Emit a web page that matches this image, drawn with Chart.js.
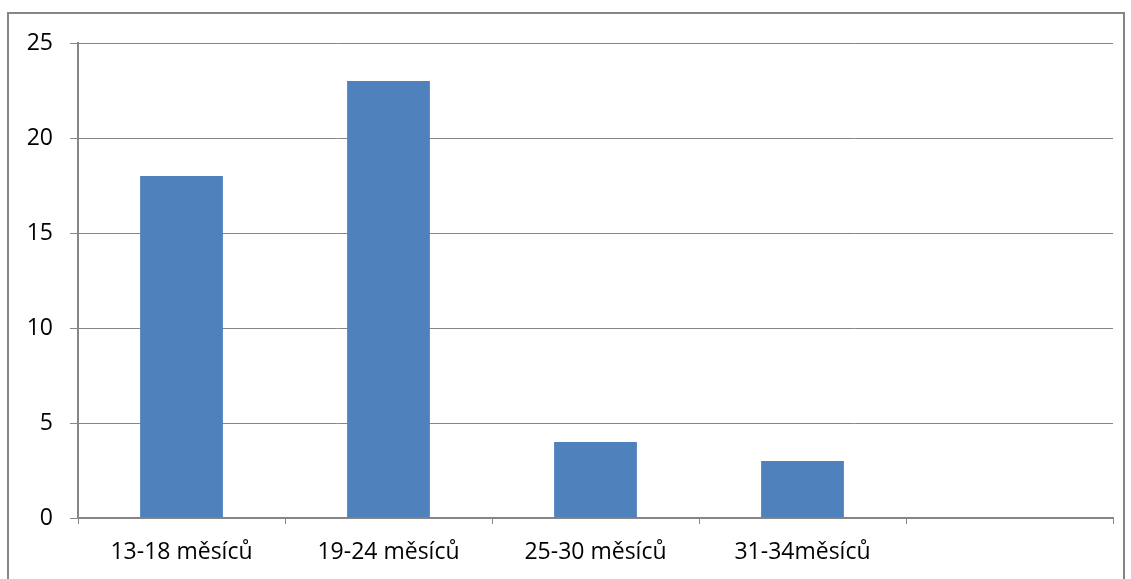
<!DOCTYPE html>
<html>
<head>
<meta charset="utf-8">
<script src="https://cdn.jsdelivr.net/npm/chart.js@4/dist/chart.umd.min.js"></script>
<style>
  html, body { margin: 0; padding: 0; background: #fff; }
  #wrap { position: relative; width: 1131px; height: 579px; }
</style>
</head>
<body>
<div id="wrap"><canvas id="c" width="1131" height="579"></canvas></div>
<script>
// Age groups (months) and counts per group
const categories = ['13-18 měsíců', '19-24 měsíců', '25-30 měsíců', '31-34měsíců', ''];
const counts = [18, 23, 4, 3, null];
const yTicks = [0, 5, 10, 15, 20, 25];

const gridGray = '#868686';
const barBlue = '#4F81BD';
const fontFamily = '"Open Sans", "Liberation Sans", sans-serif';

// Outer frame around the whole chart
const framePlugin = {
  id: 'frame',
  afterDraw(chart) {
    const ctx = chart.ctx;
    ctx.save();
    ctx.strokeStyle = gridGray;
    ctx.lineWidth = 2;
    ctx.strokeRect(8, 13, 1116, 580);
    ctx.restore();
  }
};

new Chart(document.getElementById('c'), {
  type: 'bar',
  data: {
    labels: categories,
    datasets: [{
      data: counts,
      backgroundColor: barBlue,
      borderWidth: 0,
      categoryPercentage: 1.0,
      barPercentage: 0.4
    }]
  },
  options: {
    responsive: false,
    animation: false,
    layout: { padding: { left: 0, top: 43, right: 18, bottom: 0 } },
    plugins: { legend: { display: false }, tooltip: { enabled: false } },
    scales: {
      x: {
        grid: {
          offset: true,
          drawOnChartArea: false,
          drawTicks: true,
          tickLength: 6,
          color: gridGray,
          lineWidth: 1
        },
        border: { color: gridGray, width: 2 },
        ticks: {
          color: '#000',
          font: { family: fontFamily, size: 23 },
          padding: 15,
          maxRotation: 0,
          autoSkip: false
        },
        afterFit(scale) { scale.height = 61; }
      },
      y: {
        min: 0,
        max: 25,
        afterBuildTicks(scale) { scale.ticks = yTicks.map(v => ({ value: v })); },
        grid: {
          color: gridGray,
          lineWidth: 1,
          drawTicks: true,
          tickLength: 8
        },
        border: { color: gridGray, width: 2 },
        ticks: {
          color: '#000',
          font: { family: fontFamily, size: 23 },
          padding: 17
        },
        afterFit(scale) { scale.width = 78; }
      }
    }
  },
  plugins: [framePlugin]
});
</script>
</body>
</html>
